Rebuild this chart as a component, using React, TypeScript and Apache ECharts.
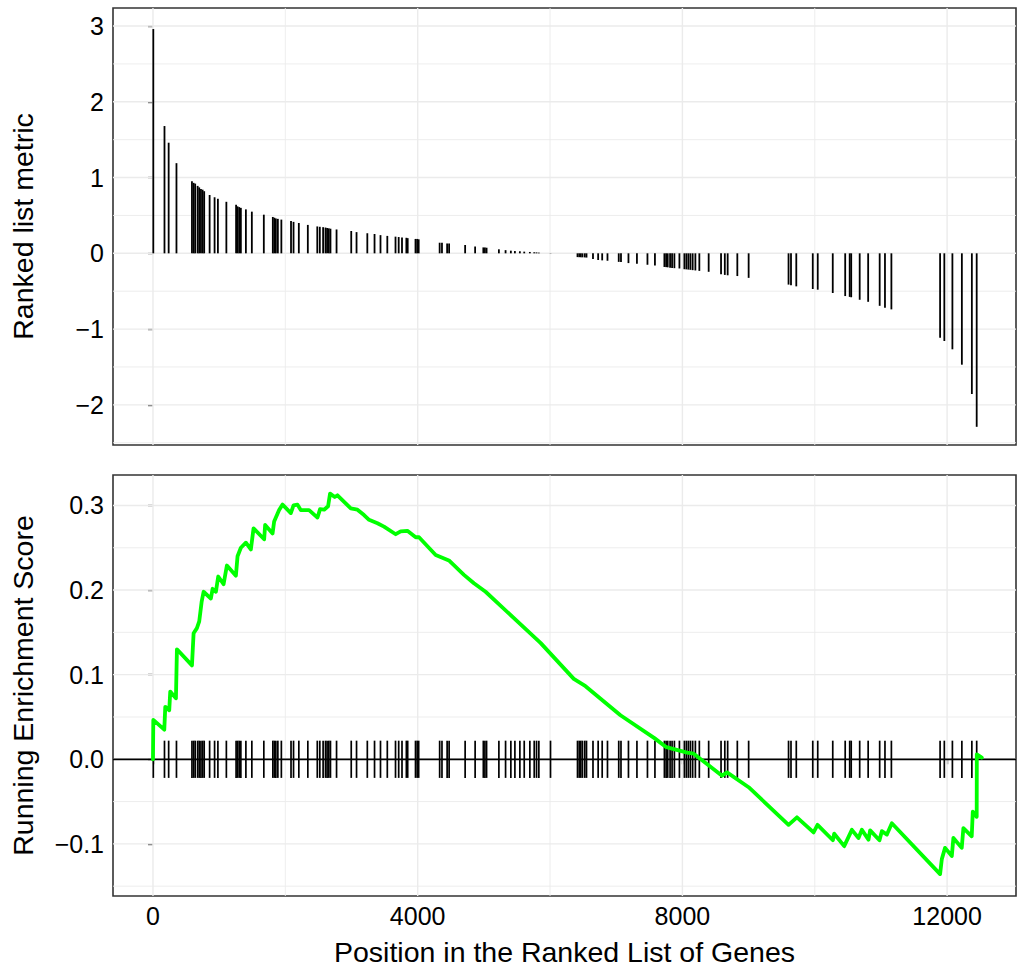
import React, { useEffect, useRef } from "react";
import * as echarts from "echarts";

// Gene-set hit positions in the ranked list and their ranked-list metric
const HIT_POS = [
  5, 174, 237, 355, 589, 614, 638, 675, 699, 725,
  750, 774, 856, 931, 981, 1109, 1256, 1278, 1303, 1328,
  1404, 1494, 1675, 1811, 1834, 1857, 1887, 1940, 2086, 2124,
  2204, 2340, 2483, 2521, 2571, 2607, 2631, 2657, 2682, 2774,
  2996, 3076, 3239, 3348, 3438, 3541, 3665, 3713, 3763, 3829,
  3849, 3967, 3992, 4015, 4332, 4367, 4445, 4475, 4717, 4868,
  4992, 5016, 5041, 5227, 5328, 5408, 5469, 5544, 5610, 5695,
  5761, 5796, 5831, 6007, 6415, 6441, 6465, 6490, 6525, 6551,
  6649, 6727, 6788, 6868, 7038, 7072, 7185, 7313, 7472, 7585,
  7728, 7754, 7778, 7814, 7844, 7879, 7955, 8030, 8060, 8090,
  8121, 8155, 8196, 8256, 8397, 8584, 8641, 8684, 8830, 9001,
  9604, 9641, 9721, 9970, 10045, 10272, 10460, 10528, 10551, 10679,
  10807, 10981, 11061, 11158, 11894, 11958, 12080, 12223, 12374, 12447,
];
const HIT_METRIC = [
  2.96, 1.68, 1.46, 1.19, 0.95, 0.93, 0.92, 0.89, 0.87, 0.85,
  0.84, 0.82, 0.77, 0.74, 0.72, 0.68, 0.64, 0.62, 0.61, 0.6,
  0.58, 0.55, 0.51, 0.48, 0.47, 0.46, 0.455, 0.445, 0.425, 0.415,
  0.4, 0.375, 0.355, 0.35, 0.345, 0.34, 0.335, 0.33, 0.325, 0.315,
  0.295, 0.28, 0.265, 0.255, 0.24, 0.23, 0.22, 0.215, 0.21, 0.205,
  0.2, 0.19, 0.19, 0.185, 0.14, 0.14, 0.13, 0.13, 0.11, 0.09,
  0.078, 0.076, 0.074, 0.053, 0.042, 0.035, 0.03, 0.027, 0.022, 0.018,
  0.014, 0.012, 0.009, 0.003, -0.05, -0.051, -0.052, -0.053, -0.054, -0.056,
  -0.075, -0.088, -0.093, -0.098, -0.113, -0.116, -0.129, -0.138, -0.151, -0.16,
  -0.18, -0.182, -0.185, -0.19, -0.193, -0.196, -0.2, -0.21, -0.212, -0.215,
  -0.218, -0.222, -0.226, -0.232, -0.244, -0.276, -0.285, -0.29, -0.3, -0.324,
  -0.413, -0.42, -0.436, -0.471, -0.48, -0.524, -0.564, -0.575, -0.58, -0.613,
  -0.64, -0.693, -0.72, -0.74, -1.114, -1.157, -1.267, -1.47, -1.857, -2.29,
];

// Running enrichment score (vertices)
const ES_POS = [
  0, 5, 171, 186, 246, 261, 347, 362, 589, 614,
  664, 699, 735, 765, 875, 901, 951, 986, 1067, 1117,
  1253, 1278, 1328, 1404, 1479, 1520, 1680, 1695, 1807, 1831,
  1906, 1958, 2083, 2124, 2184, 2234, 2359, 2486, 2525, 2586,
  2646, 2676, 2747, 2788, 2989, 3090, 3189, 3265, 3392, 3491,
  3668, 3743, 3844, 3970, 4020, 4272, 4472, 4699, 4850, 5026,
  5856, 6359, 6536, 7064, 7577, 7758, 8071, 8170, 8599, 8675,
  9001, 9604, 9731, 9982, 10042, 10274, 10294, 10445, 10561, 10661,
  10712, 10812, 10837, 10978, 11014, 11090, 11165, 11894, 11920, 11969,
  12071, 12095, 12221, 12246, 12372, 12388, 12447, 12449, 12524,
];
const ES_VAL = [
  0, 0.0465, 0.035, 0.062, 0.058, 0.08, 0.072, 0.13, 0.111, 0.149,
  0.155, 0.163, 0.186, 0.198, 0.19, 0.2015, 0.198, 0.216, 0.207, 0.229,
  0.217, 0.24, 0.25, 0.256, 0.248, 0.273, 0.26, 0.277, 0.267, 0.281,
  0.2945, 0.301, 0.291, 0.3, 0.301, 0.2945, 0.2945, 0.2857, 0.2957, 0.295,
  0.299, 0.314, 0.31, 0.312, 0.2965, 0.295, 0.2887, 0.283, 0.279, 0.275,
  0.266, 0.2694, 0.27, 0.2624, 0.2624, 0.2415, 0.235, 0.218, 0.208, 0.198,
  0.1376, 0.095, 0.0864, 0.052, 0.025, 0.0143, 0.0078, 0.0066, -0.0194, -0.0155,
  -0.033, -0.0775, -0.0686, -0.0864, -0.0775, -0.0957, -0.088, -0.1027, -0.0834, -0.093,
  -0.0834, -0.095, -0.084, -0.0957, -0.085, -0.089, -0.0756, -0.1357, -0.118, -0.1047,
  -0.1143, -0.093, -0.1047, -0.0814, -0.091, -0.062, -0.068, 0.0058, 0.002,
];

const X_TICKS = [0, 4000, 8000, 12000];
const X_GRID = [0, 2000, 4000, 6000, 8000, 10000, 12000];
const TOP_Y_TICKS = [-2, -1, 0, 1, 2, 3];
const TOP_Y_GRID = [-2.5, -2, -1.5, -1, -0.5, 0, 0.5, 1, 1.5, 2, 2.5, 3];
const BOT_Y_TICKS = [-0.1, 0, 0.1, 0.2, 0.3];
const BOT_Y_GRID = [-0.15, -0.1, -0.05, 0, 0.05, 0.1, 0.15, 0.2, 0.25, 0.3];

const X_MIN = -604;
const X_MAX = 13041;
const TOP_MIN = -2.53;
const TOP_MAX = 3.238;
const BOT_MIN = -0.1616;
const BOT_MAX = 0.336;
const RUG_HALF = 0.022;

const FONT = "'Liberation Sans', Arial, Helvetica, sans-serif";
const MAJOR = [0, 4000, 8000, 12000];

function fmtNum(v: number, digits: number) {
  const s = Math.abs(v).toFixed(digits);
  return v < 0 ? "\u2212" + s : s;
}

export default function App() {
  const ref = useRef<HTMLDivElement>(null);

  useEffect(() => {
    if (!ref.current) return;
    const chart = echarts.init(ref.current, undefined, { renderer: "svg" });

    const gridLineSeries = (
      xIdx: number,
      yIdx: number,
      hVals: number[],
      vVals: number[],
      majorH: number[],
      yMin: number,
      yMax: number
    ) => {
      const data: any[] = [];
      hVals.forEach((v) => data.push([X_MIN, v, 0, majorH.indexOf(v) >= 0 ? 1 : 0]));
      vVals.forEach((v) => data.push([v, yMin, 1, MAJOR.indexOf(v) >= 0 ? 1 : 0]));
      return {
        type: "custom",
        xAxisIndex: xIdx,
        yAxisIndex: yIdx,
        silent: true,
        z: 1,
        data,
        renderItem: (params: any, api: any) => {
          const a = api.value(0);
          const b = api.value(1);
          const vertical = api.value(2) === 1;
          const major = api.value(3) === 1;
          const p1 = vertical ? api.coord([a, yMin]) : api.coord([X_MIN, b]);
          const p2 = vertical ? api.coord([a, yMax]) : api.coord([X_MAX, b]);
          return {
            type: "line",
            shape: { x1: p1[0], y1: p1[1], x2: p2[0], y2: p2[1] },
            style: { stroke: "#EBEBEB", lineWidth: major ? 1.4 : 0.9 },
          };
        },
      };
    };

    const tickLabel = { fontSize: 25, color: "#000000", fontFamily: FONT };

    chart.setOption({
      animation: false,
      backgroundColor: "#FFFFFF",
      grid: [
        { left: 112, top: 8, width: 904, height: 437, show: true, borderColor: "#333333", borderWidth: 1.6, backgroundColor: "transparent" },
        { left: 112, top: 475, width: 904, height: 428, show: true, borderColor: "#333333", borderWidth: 1.6, backgroundColor: "transparent" },
      ],
      xAxis: [
        {
          type: "value",
          gridIndex: 0,
          min: X_MIN,
          max: X_MAX,
          axisLine: { show: false },
          axisTick: { show: false },
          axisLabel: { show: false },
          splitLine: { show: false },
        },
        {
          type: "value",
          gridIndex: 1,
          min: X_MIN,
          max: X_MAX,
          axisLine: { show: false },
          axisTick: { show: true, length: 5, lineStyle: { color: "#333333", width: 1.4 }, customValues: X_TICKS },
          axisLabel: { ...tickLabel, margin: 7, customValues: X_TICKS, formatter: (v: number) => String(Math.round(v)) },
          splitLine: { show: false },
          name: "Position in the Ranked List of Genes",
          nameLocation: "middle",
          nameGap: 41,
          nameTextStyle: { fontSize: 28.5, color: "#000000", fontFamily: FONT },
        },
      ],
      yAxis: [
        {
          type: "value",
          gridIndex: 0,
          min: TOP_MIN,
          max: TOP_MAX,
          axisLine: { show: false },
          axisTick: { show: true, length: 5, lineStyle: { color: "#333333", width: 1.4 }, customValues: TOP_Y_TICKS },
          axisLabel: { ...tickLabel, margin: 9, customValues: TOP_Y_TICKS, formatter: (v: number) => fmtNum(v, 0) },
          splitLine: { show: false },
          name: "Ranked list metric",
          nameLocation: "middle",
          nameGap: 76,
          nameRotate: 90,
          nameTextStyle: { fontSize: 28.5, color: "#000000", fontFamily: FONT },
        },
        {
          type: "value",
          gridIndex: 1,
          min: BOT_MIN,
          max: BOT_MAX,
          axisLine: { show: false },
          axisTick: { show: true, length: 5, lineStyle: { color: "#333333", width: 1.4 }, customValues: BOT_Y_TICKS },
          axisLabel: { ...tickLabel, margin: 9, customValues: BOT_Y_TICKS, formatter: (v: number) => fmtNum(v, 1) },
          splitLine: { show: false },
          name: "Running Enrichment Score",
          nameLocation: "middle",
          nameGap: 76,
          nameRotate: 90,
          nameTextStyle: { fontSize: 28.5, color: "#000000", fontFamily: FONT },
        },
      ],
      series: [
        gridLineSeries(0, 0, TOP_Y_GRID, X_GRID, TOP_Y_TICKS, TOP_MIN, TOP_MAX),
        gridLineSeries(1, 1, BOT_Y_GRID, X_GRID, BOT_Y_TICKS, BOT_MIN, BOT_MAX),
        {
          type: "custom",
          name: "metric",
          xAxisIndex: 0,
          yAxisIndex: 0,
          z: 3,
          silent: true,
          data: HIT_POS.map((p, i) => [p, HIT_METRIC[i]]),
          renderItem: (params: any, api: any) => {
            const x = api.value(0);
            const v = api.value(1);
            const p0 = api.coord([x, 0]);
            const p1 = api.coord([x, v]);
            return {
              type: "line",
              shape: { x1: p0[0], y1: p0[1], x2: p1[0], y2: p1[1] },
              style: { stroke: "#000000", lineWidth: 1.8 },
            };
          },
        },
        {
          type: "custom",
          name: "zero",
          xAxisIndex: 1,
          yAxisIndex: 1,
          z: 3,
          silent: true,
          data: [[X_MIN, 0]],
          renderItem: (params: any, api: any) => {
            const p0 = api.coord([X_MIN, 0]);
            const p1 = api.coord([X_MAX, 0]);
            return {
              type: "line",
              shape: { x1: p0[0], y1: p0[1], x2: p1[0], y2: p1[1] },
              style: { stroke: "#000000", lineWidth: 1.8 },
            };
          },
        },
        {
          type: "custom",
          name: "rug",
          xAxisIndex: 1,
          yAxisIndex: 1,
          z: 3,
          silent: true,
          data: HIT_POS.map((p) => [p, 0]),
          renderItem: (params: any, api: any) => {
            const x = api.value(0);
            const p0 = api.coord([x, -RUG_HALF]);
            const p1 = api.coord([x, RUG_HALF]);
            return {
              type: "line",
              shape: { x1: p0[0], y1: p0[1], x2: p1[0], y2: p1[1] },
              style: { stroke: "#000000", lineWidth: 1.7 },
            };
          },
        },
        {
          type: "line",
          name: "ES",
          xAxisIndex: 1,
          yAxisIndex: 1,
          z: 5,
          silent: true,
          showSymbol: false,
          symbol: "none",
          data: ES_POS.map((p, i) => [p, ES_VAL[i]]),
          lineStyle: { color: "#00FF00", width: 3.8, join: "round", cap: "round" },
        },
      ],
    });

    return () => chart.dispose();
  }, []);

  return (
    <div
      ref={ref}
      style={{ position: "fixed", left: 0, top: 0, width: 1017, height: 967, background: "#FFFFFF" }}
    />
  );
}
